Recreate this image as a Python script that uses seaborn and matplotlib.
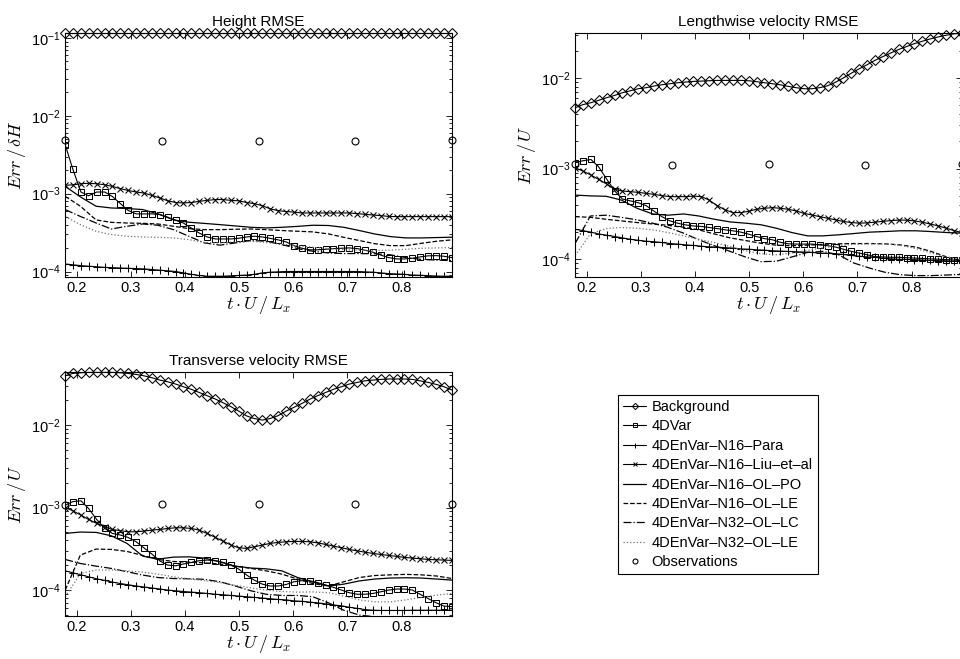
import matplotlib
matplotlib.use('Agg')
import matplotlib.pyplot as plt
from matplotlib.lines import Line2D
import seaborn as sns

# Trục thời gian (t*U/Lx): lưới có marker, lưới đường trơn, thời điểm quan sát
t_mark = [0.179, 0.193, 0.208, 0.222, 0.237, 0.252, 0.266, 0.281, 0.295, 0.310,
          0.324, 0.339, 0.354, 0.368, 0.383, 0.397, 0.412, 0.426, 0.441, 0.456,
          0.470, 0.485, 0.499, 0.514, 0.528, 0.543, 0.557, 0.572, 0.587, 0.601,
          0.616, 0.630, 0.645, 0.660, 0.674, 0.689, 0.703, 0.718, 0.732, 0.747,
          0.762, 0.776, 0.791, 0.805, 0.820, 0.834, 0.849, 0.864, 0.878, 0.893]
t_line = [0.179, 0.207, 0.236, 0.264, 0.293, 0.322, 0.350, 0.379, 0.407, 0.436,
          0.465, 0.493, 0.522, 0.550, 0.579, 0.608, 0.636, 0.665, 0.693, 0.722,
          0.750, 0.779, 0.808, 0.836, 0.865, 0.893]
t_obs = [0.179, 0.357, 0.536, 0.714, 0.893]

labels = ['Background', '4DVar', '4DEnVar–N16–Para', '4DEnVar–N16–Liu–et–al',
          '4DEnVar–N16–OL–PO', '4DEnVar–N16–OL–LE', '4DEnVar–N32–OL–LC',
          '4DEnVar–N32–OL–LE', 'Observations']
titles = ['Height RMSE', 'Lengthwise velocity RMSE', 'Transverse velocity RMSE']
ylabels = [r'$Err\,/\,\delta H$', r'$Err\,/\,U$', r'$Err\,/\,U$']
xlabel = r'$t\cdot U\,/\,L_x$'
xticks = [0.2, 0.3, 0.4, 0.5, 0.6, 0.7, 0.8]

# ---- Height RMSE ----
h_bg = [0.115, 0.115, 0.115, 0.115, 0.115, 0.115, 0.115, 0.115, 0.115, 0.115,
        0.115, 0.115, 0.115, 0.115, 0.115, 0.115, 0.115, 0.115, 0.115, 0.115,
        0.115, 0.115, 0.115, 0.115, 0.115, 0.115, 0.115, 0.115, 0.115, 0.115,
        0.115, 0.115, 0.115, 0.115, 0.115, 0.115, 0.115, 0.115, 0.115, 0.115,
        0.115, 0.115, 0.115, 0.115, 0.115, 0.115, 0.115, 0.115, 0.115, 0.115]
h_4dvar = [4.25e-3, 2.07e-3, 1.05e-3, 9.4e-4, 1.05e-3, 1.05e-3, 9.2e-4, 7.45e-4, 6.1e-4, 5.5e-4,
           5.5e-4, 5.5e-4, 5.4e-4, 5.0e-4, 4.55e-4, 4.2e-4, 3.6e-4, 3.13e-4, 2.78e-4, 2.62e-4,
           2.62e-4, 2.62e-4, 2.67e-4, 2.78e-4, 2.84e-4, 2.78e-4, 2.67e-4, 2.55e-4, 2.4e-4, 2.15e-4,
           1.99e-4, 1.9e-4, 1.9e-4, 1.93e-4, 1.97e-4, 1.99e-4, 2.01e-4, 1.97e-4, 1.88e-4, 1.77e-4,
           1.62e-4, 1.51e-4, 1.45e-4, 1.45e-4, 1.48e-4, 1.54e-4, 1.59e-4, 1.6e-4, 1.57e-4, 1.51e-4]
h_para = [1.25e-4, 1.22e-4, 1.19e-4, 1.17e-4, 1.15e-4, 1.13e-4, 1.12e-4, 1.11e-4, 1.10e-4, 1.09e-4,
          1.08e-4, 1.06e-4, 1.04e-4, 1.02e-4, 1.0e-4, 9.6e-5, 9.2e-5, 8.9e-5, 8.7e-5, 8.7e-5,
          8.7e-5, 8.8e-5, 8.9e-5, 9.0e-5, 9.2e-5, 9.6e-5, 9.8e-5, 9.9e-5, 1.0e-4, 1.0e-4,
          1.0e-4, 1.0e-4, 1.0e-4, 1.0e-4, 1.0e-4, 1.0e-4, 1.0e-4, 1.0e-4, 9.9e-5, 9.8e-5,
          9.6e-5, 9.4e-5, 9.3e-5, 9.2e-5, 9.0e-5, 8.95e-5, 8.85e-5, 8.75e-5, 8.7e-5, 8.7e-5]
h_liu = [1.28e-3, 1.30e-3, 1.34e-3, 1.36e-3, 1.34e-3, 1.30e-3, 1.24e-3, 1.16e-3, 1.10e-3, 1.05e-3,
         1.02e-3, 9.5e-4, 8.8e-4, 8.1e-4, 7.7e-4, 7.6e-4, 7.7e-4, 7.97e-4, 8.2e-4, 8.4e-4,
         8.4e-4, 8.2e-4, 8.1e-4, 7.7e-4, 7.45e-4, 7.0e-4, 6.4e-4, 6.05e-4, 5.9e-4, 5.8e-4,
         5.65e-4, 5.65e-4, 5.65e-4, 5.65e-4, 5.65e-4, 5.65e-4, 5.65e-4, 5.54e-4, 5.43e-4, 5.32e-4,
         5.22e-4, 5.1e-4, 5.07e-4, 5.07e-4, 5.07e-4, 5.07e-4, 5.07e-4, 5.07e-4, 5.07e-4, 5.07e-4]
h_po = [1.24e-3, 9.1e-4, 6.9e-4, 6.55e-4, 6.45e-4, 6.25e-4, 5.5e-4, 4.6e-4, 4.3e-4, 4.15e-4,
        4.0e-4, 3.85e-4, 3.7e-4, 3.63e-4, 3.7e-4, 3.8e-4, 3.93e-4, 3.9e-4, 3.7e-4, 3.36e-4,
        3.04e-4, 2.81e-4, 2.7e-4, 2.7e-4, 2.73e-4, 2.76e-4]
h_le16 = [9.25e-4, 6.9e-4, 4.6e-4, 4.28e-4, 4.2e-4, 4.16e-4, 4.08e-4, 3.81e-4, 3.56e-4, 3.45e-4,
          3.45e-4, 3.49e-4, 3.52e-4, 3.45e-4, 3.36e-4, 3.29e-4, 3.23e-4, 3.04e-4, 2.75e-4, 2.5e-4,
          2.28e-4, 2.15e-4, 2.15e-4, 2.3e-4, 2.45e-4, 2.55e-4]
h_lc32 = [6.24e-4, 5.1e-4, 4.2e-4, 3.52e-4, 3.81e-4, 4.08e-4, 3.93e-4, 3.45e-4, 2.84e-4, 2.33e-4,
          2.18e-4, 2.33e-4, 2.5e-4, 2.45e-4, 2.22e-4, 1.97e-4, 1.82e-4, 1.73e-4, 1.7e-4, 1.7e-4,
          1.69e-4, 1.64e-4, 1.51e-4, 1.43e-4, 1.4e-4, 1.38e-4]
h_le32 = [5.1e-4, 4.0e-4, 3.29e-4, 2.98e-4, 2.84e-4, 2.78e-4, 2.75e-4, 2.7e-4, 2.57e-4, 2.36e-4,
          2.33e-4, 2.4e-4, 2.45e-4, 2.36e-4, 2.24e-4, 2.15e-4, 2.05e-4, 1.97e-4, 1.91e-4, 1.88e-4,
          1.86e-4, 1.88e-4, 1.93e-4, 1.99e-4, 2.01e-4, 2.03e-4]
h_obs = [4.9e-3, 4.7e-3, 4.8e-3, 4.7e-3, 4.9e-3]

# ---- Lengthwise velocity RMSE ----
u_bg = [4.69e-3, 5.07e-3, 5.33e-3, 5.66e-3, 6.05e-3, 6.42e-3, 6.87e-3, 7.22e-3, 7.6e-3, 7.8e-3,
        8.13e-3, 8.41e-3, 8.63e-3, 8.85e-3, 9.0e-3, 9.16e-3, 9.23e-3, 9.31e-3, 9.39e-3, 9.39e-3,
        9.39e-3, 9.39e-3, 9.31e-3, 9.08e-3, 8.85e-3, 8.63e-3, 8.41e-3, 8.07e-3, 7.8e-3, 7.6e-3,
        7.6e-3, 7.8e-3, 8.2e-3, 9.0e-3, 1.0e-2, 1.13e-2, 1.26e-2, 1.4e-2, 1.56e-2, 1.72e-2,
        1.89e-2, 2.06e-2, 2.22e-2, 2.39e-2, 2.54e-2, 2.69e-2, 2.83e-2, 2.96e-2, 3.06e-2, 3.13e-2]
u_4dvar = [1.16e-3, 1.22e-3, 1.26e-3, 1.05e-3, 7.66e-4, 5.66e-4, 4.62e-4, 4.4e-4, 4.21e-4, 3.9e-4,
           3.41e-4, 2.95e-4, 2.65e-4, 2.5e-4, 2.39e-4, 2.33e-4, 2.3e-4, 2.24e-4, 2.18e-4, 2.11e-4,
           2.06e-4, 1.99e-4, 1.89e-4, 1.78e-4, 1.69e-4, 1.64e-4, 1.54e-4, 1.48e-4, 1.47e-4, 1.47e-4,
           1.47e-4, 1.44e-4, 1.41e-4, 1.36e-4, 1.29e-4, 1.22e-4, 1.17e-4, 1.12e-4, 1.07e-4, 1.06e-4,
           1.05e-4, 1.05e-4, 1.04e-4, 1.03e-4, 1.02e-4, 1.01e-4, 1.0e-4, 9.9e-5, 9.8e-5, 9.7e-5]
u_para = [2.14e-4, 2.07e-4, 1.99e-4, 1.9e-4, 1.84e-4, 1.78e-4, 1.72e-4, 1.66e-4, 1.62e-4, 1.58e-4,
          1.56e-4, 1.53e-4, 1.49e-4, 1.47e-4, 1.44e-4, 1.42e-4, 1.39e-4, 1.37e-4, 1.36e-4, 1.34e-4,
          1.33e-4, 1.30e-4, 1.29e-4, 1.27e-4, 1.26e-4, 1.24e-4, 1.23e-4, 1.22e-4, 1.21e-4, 1.2e-4,
          1.19e-4, 1.17e-4, 1.16e-4, 1.15e-4, 1.13e-4, 1.1e-4, 1.08e-4, 1.06e-4, 1.05e-4, 1.03e-4,
          1.01e-4, 1.0e-4, 9.95e-5, 9.9e-5, 9.8e-5, 9.7e-5, 9.65e-5, 9.6e-5, 9.5e-5, 9.45e-5]
u_liu = [1.02e-3, 9.4e-4, 8.5e-4, 7.6e-4, 6.76e-4, 5.9e-4, 5.66e-4, 5.56e-4, 5.47e-4, 5.33e-4,
         5.2e-4, 5.03e-4, 4.9e-4, 4.9e-4, 4.9e-4, 4.97e-4, 4.9e-4, 4.5e-4, 3.9e-4, 3.5e-4,
         3.27e-4, 3.27e-4, 3.38e-4, 3.56e-4, 3.65e-4, 3.71e-4, 3.65e-4, 3.56e-4, 3.41e-4, 3.21e-4,
         3.08e-4, 2.95e-4, 2.83e-4, 2.72e-4, 2.61e-4, 2.54e-4, 2.5e-4, 2.52e-4, 2.56e-4, 2.62e-4,
         2.67e-4, 2.7e-4, 2.7e-4, 2.65e-4, 2.56e-4, 2.45e-4, 2.33e-4, 2.2e-4, 2.07e-4, 1.97e-4]
u_po = [5.1e-4, 5.0e-4, 4.95e-4, 4.5e-4, 3.65e-4, 3.16e-4, 3.06e-4, 3.16e-4, 3.0e-4, 2.76e-4,
        2.58e-4, 2.5e-4, 2.4e-4, 2.2e-4, 1.97e-4, 1.81e-4, 1.81e-4, 1.86e-4, 1.92e-4, 1.99e-4,
        2.02e-4, 2.06e-4, 2.06e-4, 2.02e-4, 1.97e-4, 1.94e-4]
u_le16 = [2.95e-4, 2.9e-4, 2.76e-4, 2.65e-4, 2.54e-4, 2.45e-4, 2.37e-4, 2.25e-4, 2.11e-4, 1.9e-4,
          1.72e-4, 1.61e-4, 1.5e-4, 1.43e-4, 1.41e-4, 1.43e-4, 1.46e-4, 1.48e-4, 1.49e-4, 1.49e-4,
          1.48e-4, 1.44e-4, 1.36e-4, 1.22e-4, 1.06e-4, 9.5e-5]
u_lc32 = [1.5e-4, 3.0e-4, 3.06e-4, 2.9e-4, 2.72e-4, 2.5e-4, 2.25e-4, 1.94e-4, 1.64e-4, 1.41e-4,
          1.22e-4, 1.06e-4, 9.4e-5, 9.5e-5, 1.06e-4, 1.19e-4, 1.22e-4, 1.12e-4, 9.1e-5, 8.0e-5,
          7.2e-5, 6.75e-5, 6.6e-5, 6.6e-5, 6.7e-5, 6.8e-5]
u_le32 = [1.1e-4, 1.9e-4, 2.18e-4, 2.24e-4, 2.2e-4, 2.11e-4, 1.97e-4, 1.81e-4, 1.66e-4, 1.53e-4,
          1.38e-4, 1.24e-4, 1.15e-4, 1.12e-4, 1.17e-4, 1.25e-4, 1.34e-4, 1.41e-4, 1.46e-4, 1.48e-4,
          1.48e-4, 1.43e-4, 1.31e-4, 1.17e-4, 1.06e-4, 9.9e-5]
u_obs = [1.12e-3, 1.1e-3, 1.12e-3, 1.1e-3, 1.12e-3]

# ---- Transverse velocity RMSE ----
v_bg = [3.96e-2, 4.23e-2, 4.31e-2, 4.35e-2, 4.35e-2, 4.35e-2, 4.35e-2, 4.31e-2, 4.23e-2, 4.11e-2,
        3.96e-2, 3.75e-2, 3.51e-2, 3.35e-2, 3.14e-2, 2.92e-2, 2.71e-2, 2.49e-2, 2.27e-2, 2.07e-2,
        1.87e-2, 1.67e-2, 1.48e-2, 1.29e-2, 1.2e-2, 1.15e-2, 1.2e-2, 1.3e-2, 1.48e-2, 1.64e-2,
        1.83e-2, 2.05e-2, 2.27e-2, 2.49e-2, 2.71e-2, 2.92e-2, 3.14e-2, 3.29e-2, 3.44e-2, 3.51e-2,
        3.58e-2, 3.62e-2, 3.62e-2, 3.62e-2, 3.58e-2, 3.44e-2, 3.29e-2, 3.11e-2, 2.92e-2, 2.66e-2]
v_4dvar = [1.07e-3, 1.18e-3, 1.21e-3, 9.77e-4, 7.18e-4, 5.58e-4, 4.86e-4, 4.64e-4, 4.35e-4, 3.85e-4,
           3.26e-4, 2.73e-4, 2.25e-4, 2.01e-4, 1.97e-4, 2.07e-4, 2.16e-4, 2.27e-4, 2.31e-4, 2.27e-4,
           2.16e-4, 2.01e-4, 1.8e-4, 1.52e-4, 1.32e-4, 1.18e-4, 1.12e-4, 1.12e-4, 1.17e-4, 1.26e-4,
           1.3e-4, 1.3e-4, 1.23e-4, 1.15e-4, 1.08e-4, 1.0e-4, 9.3e-5, 8.9e-5, 8.9e-5, 9.1e-5,
           9.55e-5, 1.0e-4, 1.03e-4, 1.03e-4, 1.0e-4, 8.9e-5, 7.9e-5, 7.0e-5, 6.4e-5, 6.3e-5]
v_para = [1.71e-4, 1.62e-4, 1.53e-4, 1.45e-4, 1.37e-4, 1.31e-4, 1.25e-4, 1.2e-4, 1.16e-4, 1.12e-4,
          1.09e-4, 1.06e-4, 1.03e-4, 1.0e-4, 9.8e-5, 9.6e-5, 9.45e-5, 9.3e-5, 9.1e-5, 8.9e-5,
          8.77e-5, 8.6e-5, 8.45e-5, 8.3e-5, 8.15e-5, 8.0e-5, 7.85e-5, 7.7e-5, 7.6e-5, 7.4e-5,
          7.3e-5, 7.15e-5, 7.0e-5, 6.8e-5, 6.6e-5, 6.45e-5, 6.2e-5, 6.0e-5, 5.8e-5, 5.7e-5,
          5.66e-5, 5.66e-5, 5.66e-5, 5.66e-5, 5.7e-5, 5.7e-5, 5.7e-5, 5.7e-5, 5.7e-5, 5.7e-5]
v_liu = [1.0e-3, 9.15e-4, 8.1e-4, 7.18e-4, 6.43e-4, 5.85e-4, 5.43e-4, 5.24e-4, 5.09e-4, 5.09e-4,
         5.19e-4, 5.33e-4, 5.43e-4, 5.58e-4, 5.69e-4, 5.69e-4, 5.58e-4, 5.33e-4, 4.86e-4, 4.35e-4,
         3.93e-4, 3.51e-4, 3.26e-4, 3.2e-4, 3.35e-4, 3.51e-4, 3.68e-4, 3.78e-4, 3.85e-4, 3.89e-4,
         3.89e-4, 3.85e-4, 3.74e-4, 3.57e-4, 3.41e-4, 3.26e-4, 3.11e-4, 2.99e-4, 2.88e-4, 2.78e-4,
         2.7e-4, 2.63e-4, 2.56e-4, 2.49e-4, 2.44e-4, 2.4e-4, 2.35e-4, 2.33e-4, 2.31e-4, 2.29e-4]
v_po = [4.86e-4, 5.05e-4, 5.0e-4, 4.55e-4, 3.68e-4, 2.58e-4, 2.37e-4, 2.51e-4, 2.53e-4, 2.44e-4,
        2.2e-4, 1.95e-4, 1.85e-4, 1.81e-4, 1.71e-4, 1.42e-4, 1.25e-4, 1.12e-4, 1.18e-4, 1.29e-4,
        1.36e-4, 1.4e-4, 1.41e-4, 1.4e-4, 1.36e-4, 1.32e-4]
v_le16 = [1.0e-4, 2.66e-4, 3.14e-4, 3.11e-4, 2.94e-4, 2.63e-4, 2.35e-4, 2.22e-4, 2.18e-4, 2.14e-4,
          2.07e-4, 1.95e-4, 1.83e-4, 1.71e-4, 1.56e-4, 1.36e-4, 1.2e-4, 1.12e-4, 1.26e-4, 1.42e-4,
          1.5e-4, 1.53e-4, 1.55e-4, 1.53e-4, 1.48e-4, 1.38e-4]
v_lc32 = [2.35e-4, 2.1e-4, 1.95e-4, 1.83e-4, 1.67e-4, 1.52e-4, 1.42e-4, 1.38e-4, 1.37e-4, 1.35e-4,
          1.26e-4, 1.12e-4, 9.8e-5, 8.9e-5, 8.6e-5, 8.6e-5, 8.3e-5, 7.0e-5, 5.7e-5, 4.98e-5,
          4.75e-5, 4.53e-5, 4.32e-5, 4.2e-5, 4.2e-5, 4.2e-5]
v_le32 = [8.3e-5, 1.59e-4, 1.75e-4, 1.75e-4, 1.71e-4, 1.65e-4, 1.56e-4, 1.45e-4, 1.37e-4, 1.3e-4,
          1.23e-4, 1.14e-4, 1.06e-4, 1.0e-4, 9.6e-5, 9.45e-5, 9.5e-5, 9.3e-5, 8.45e-5, 7.6e-5,
          7.2e-5, 7.2e-5, 7.6e-5, 8.15e-5, 8.7e-5, 9.1e-5]
v_obs = [1.08e-3, 1.1e-3, 1.1e-3, 1.1e-3, 1.1e-3]

ylims = [(8.5e-5, 0.116), (6.37e-5, 3.13e-2), (4.85e-5, 4.4e-2)]

panels = [
    (h_bg, h_4dvar, h_para, h_liu, h_po, h_le16, h_lc32, h_le32, h_obs),
    (u_bg, u_4dvar, u_para, u_liu, u_po, u_le16, u_lc32, u_le32, u_obs),
    (v_bg, v_4dvar, v_para, v_liu, v_po, v_le16, v_lc32, v_le32, v_obs),
]

sns.set_style('ticks')
plt.rcParams['font.family'] = ['Liberation Sans', 'DejaVu Sans']
plt.rcParams['axes.linewidth'] = 0.8
for key in ['text.color', 'axes.labelcolor', 'xtick.color', 'ytick.color', 'axes.edgecolor']:
    plt.rcParams[key] = 'k'

W, H = 960, 659
fig = plt.figure(figsize=(9.6, 6.59), dpi=100)
# vị trí các ô theo pixel: (trái, trên, rộng, cao)
boxes = [(65, 33, 387, 244), (575, 33, 387, 244), (65, 372, 387, 244)]
axes = [fig.add_axes([l / W, 1 - (tp + h) / H, w / W, h / H]) for l, tp, w, h in boxes]

# kiểu vẽ của từng chuỗi: (marker, cỡ marker, kiểu đường, màu)
marked = [('D', 4.6, '-', 'k'), ('s', 4.3, '-', 'k'), ('+', 5.2, '-', 'k'), ('x', 3.7, '-', 'k')]
plain = [('-', 'k', 0.9), ('--', 'k', 0.9), ('-.', 'k', 0.9), (':', '0.45', 0.9)]

for ax, data, title, ylab, ylim in zip(axes, panels, titles, ylabels, ylims):
    for vals, (mk, ms, ls, col) in zip(data[:4], marked):
        sns.lineplot(x=t_mark, y=vals, ax=ax, color=col, linewidth=0.8, linestyle=ls,
                     marker=mk, markersize=ms, markerfacecolor='none', markeredgecolor='k',
                     markeredgewidth=0.75, errorbar=None, legend=False,
                     clip_on=(mk != 'D'))
    for vals, (ls, col, lw) in zip(data[4:8], plain):
        sns.lineplot(x=t_line, y=vals, ax=ax, color=col, linewidth=lw, linestyle=ls,
                     errorbar=None, legend=False)
    sns.lineplot(x=t_obs, y=data[8], ax=ax, color='k', linestyle='none', marker='o',
                 markersize=5, markerfacecolor='none', markeredgecolor='k',
                 markeredgewidth=0.8, errorbar=None, legend=False, clip_on=False)
    ax.set_yscale('log')
    ax.set_xlim(0.1786, 0.893)
    ax.set_ylim(*ylim)
    ax.set_xticks(xticks)
    ax.set_xticklabels([f'{x:.1f}' for x in xticks])
    ax.tick_params(which='both', direction='in', top=True, right=True, labelsize=10.5, width=0.6)
    ax.tick_params(which='major', length=4, pad=3)
    ax.tick_params(which='minor', length=2)
    for s in ax.spines.values():
        s.set_visible(True)
        s.set_color('k')
    ax.set_title(title, fontsize=11, pad=5)
    ax.set_ylabel(ylab, fontsize=13, math_fontfamily='cm', labelpad=2)
    ax.set_xlabel(xlabel, fontsize=13, math_fontfamily='cm', labelpad=-1)

# chú thích
handles = [
    Line2D([], [], color='k', lw=0.8, marker='D', ms=3.2, mfc='none', mec='k', mew=0.7),
    Line2D([], [], color='k', lw=0.8, marker='s', ms=3.0, mfc='none', mec='k', mew=0.7),
    Line2D([], [], color='k', lw=0.8, marker='+', ms=3.6, mec='k', mew=0.7),
    Line2D([], [], color='k', lw=0.8, marker='x', ms=2.8, mec='k', mew=0.7),
    Line2D([], [], color='k', lw=0.9, ls='-'),
    Line2D([], [], color='k', lw=0.9, ls='--'),
    Line2D([], [], color='k', lw=0.9, ls='-.'),
    Line2D([], [], color='0.45', lw=0.9, ls=':'),
    Line2D([], [], color='k', ls='none', marker='o', ms=3.6, mfc='none', mec='k', mew=0.8),
]
leg = fig.legend(handles, labels, loc='upper left', bbox_to_anchor=(618 / W, 1 - 395 / H),
                 frameon=True, fancybox=False, edgecolor='k', framealpha=1, fontsize=10.5,
                 handlelength=1.6, handletextpad=0.35, borderpad=0.35, labelspacing=0.37,
                 borderaxespad=0)
leg.get_frame().set_linewidth(0.8)

fig.savefig('out.png', dpi=100)
